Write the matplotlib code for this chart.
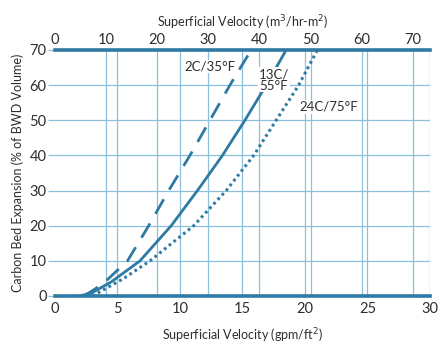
import numpy as np
import matplotlib
matplotlib.use("Agg")
import matplotlib.pyplot as plt

plt.rcParams['font.family'] = ['Lato', 'DejaVu Sans']

# bed expansion curves, velocity in gpm/ft2, expansion in % of BWD volume
v_2c = [2.3, 3.0, 4.0, 5.8, 7.5, 9.1, 10.8, 12.4, 14.0, 15.7]
e_2c = [0, 1.5, 4, 10, 20, 30, 40, 50, 60, 70]
v_13c = [2.0, 3.0, 4.5, 6.8, 9.3, 11.4, 13.4, 15.2, 16.9, 18.5]
e_13c = [0, 1, 4, 10, 20, 30, 40, 50, 60, 70]
v_24c = [3.0, 4.0, 5.5, 7.6, 11.1, 13.7, 15.9, 17.7, 19.5, 21.0]
e_24c = [0, 2, 5, 10, 20, 30, 40, 50, 60, 70]

gpm_ticks = [0, 5, 10, 15, 20, 25, 30]
metric_ticks = [0, 10, 20, 30, 40, 50, 60, 70]
y_ticks = [0, 10, 20, 30, 40, 50, 60, 70]
GPM_TO_MH = 2.445

line_c = '#2e7aa3'
grid_c = '#8ec0dc'
text_c = '#2e2e2e'

fig = plt.figure(figsize=(4.4, 3.47), dpi=100)
ax = fig.add_axes([0.125, 0.147, 0.852, 0.709])

ax.set_xlim(0, 30)
ax.set_ylim(0, 70)

# grid for both velocity scales
for g in gpm_ticks[1:]:
    ax.axvline(g, color=grid_c, lw=0.9, zorder=1)
for m in metric_ticks[1:]:
    ax.axvline(m / GPM_TO_MH, color=grid_c, lw=0.9, zorder=1)
for y in y_ticks[1:-1]:
    ax.axhline(y, color=grid_c, lw=0.9, zorder=1)

ax.plot(v_2c, e_2c, color=line_c, lw=2.0, ls=(0, (6, 4)), zorder=3)
ax.plot(v_13c, e_13c, color=line_c, lw=2.0, zorder=3)
ax.plot(v_24c, e_24c, color=line_c, lw=2.2, ls=(0, (0.9, 1.1)), zorder=3)

lbl = dict(ha='center', va='center', fontsize=9.5, color=text_c, zorder=4,
           bbox=dict(fc='white', ec='none', pad=0.5))
ax.text(12.4, 65.2, '2C/35°F', **lbl)
ax.text(17.5, 61.5, '13C/\n55°F', linespacing=0.95, **lbl)
ax.text(21.9, 53.8, '24C/75°F', **lbl)

for s in ['left', 'right']:
    ax.spines[s].set_visible(False)
for s in ['top', 'bottom']:
    ax.spines[s].set_color(line_c)
    ax.spines[s].set_linewidth(2.6)
    ax.spines[s].set_zorder(5)

ax.set_xticks(gpm_ticks)
ax.set_yticks(y_ticks)
ax.tick_params(axis='x', length=0, pad=4, labelsize=10.5, labelcolor=text_c)
ax.tick_params(axis='y', length=5, width=0.9, color=grid_c, pad=1,
               labelsize=10.5, labelcolor=text_c)

top = ax.secondary_xaxis('top', functions=(lambda x: x * GPM_TO_MH,
                                           lambda x: x / GPM_TO_MH))
top.set_xticks(metric_ticks)
top.tick_params(length=0, pad=2, labelsize=10.5, labelcolor=text_c)
top.spines['top'].set_visible(False)
top.set_xlabel('Superficial Velocity (m$^3$/hr-m$^2$)', fontsize=9,
               color=text_c, labelpad=4)

ax.set_xlabel('Superficial Velocity (gpm/ft$^2$)', fontsize=9,
              color=text_c, labelpad=8)
ax.set_ylabel('Carbon Bed Expansion (% of BWD Volume)', fontsize=9,
              color=text_c, labelpad=4)

fig.savefig('out.png', dpi=100, facecolor='white')
